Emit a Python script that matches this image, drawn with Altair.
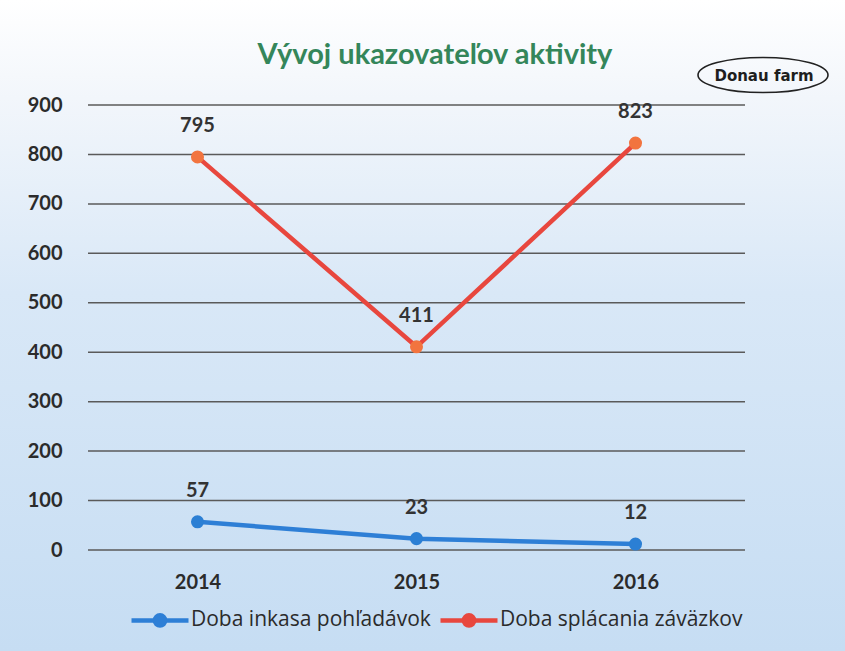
import altair as alt
import pandas as pd

years = ["2014", "2015", "2016"]
inkasa = [57, 23, 12]
splacania = [795, 411, 823]
series = ["Doba inkasa pohľadávok", "Doba splácania záväzkov"]
line_colors = ["#2e7fd6", "#e8473e"]
point_colors = ["#2b7fd4", "#f2743f"]
y_ticks = [0, 100, 200, 300, 400, 500, 600, 700, 800, 900]
title_text = "Vývoj ukazovateľov aktivity"
logo_text_value = "Donau farm"

rows = []
for i, y in enumerate(years):
    rows.append({"year": y, "series": series[0], "value": inkasa[i], "pc": point_colors[0]})
    rows.append({"year": y, "series": series[1], "value": splacania[i], "pc": point_colors[1]})
df = pd.DataFrame(rows)
grid_df = pd.DataFrame({"tick": y_ticks})

W, H = 657, 445
PL, PT, PR, PB = 88, 105, 100, 101
FONT = "Lato"

xenc = alt.X("year:N", sort=years, scale=alt.Scale(type="point", padding=0.5),
             axis=alt.Axis(title=None, labelFontSize=20, labelFont=FONT, labelFontWeight="bold",
                           labelColor="#2b2b2b", labelPadding=22, ticks=False, domain=False,
                           grid=False, labelAngle=0, zindex=1))
yscale = alt.Scale(domain=[0, 900], nice=False, zero=True)
yaxis = alt.Axis(title=None, values=y_ticks, labelFontSize=20, labelFont=FONT,
                 labelFontWeight="bold", labelColor="#2b2b2b", labelPadding=26,
                 ticks=False, domain=False, grid=False, zindex=1)
yenc = alt.Y("value:Q", scale=yscale, axis=yaxis)

bg = alt.Chart(alt.Data(values=[{}])).mark_rect(
    color={"gradient": "linear", "x1": 0, "y1": 0, "x2": 0, "y2": 1,
           "stops": [{"offset": 0, "color": "#ffffff"},
                     {"offset": 0.15, "color": "#f2f6fb"},
                     {"offset": 0.45, "color": "#d9e8f7"},
                     {"offset": 1, "color": "#c6ddf3"}]}
).encode(x=alt.value(-PL), x2=alt.value(W + PR), y=alt.value(-PT), y2=alt.value(H + PB))

grid = alt.Chart(grid_df).mark_rule(color="#5a5a5a", strokeWidth=1.5).encode(
    y=alt.Y("tick:Q", scale=yscale, axis=yaxis),
    x=alt.value(0), x2=alt.value(W))

sym = ("M-1,0 L1,0 "
       "M0.18,0 A0.18,0.18 0 1,1 -0.18,0 A0.18,0.18 0 1,1 0.18,0 "
       "M0.07,0 A0.07,0.07 0 1,1 -0.07,0 A0.07,0.07 0 1,1 0.07,0")

color = alt.Color("series:N", scale=alt.Scale(domain=series, range=line_colors),
                  legend=alt.Legend(title=None, orient="none", legendX=41, legendY=484,
                                    direction="horizontal", columns=2, symbolType=sym,
                                    symbolSize=3249, symbolStrokeWidth=4.5,
                                    labelFont="Open Sans", labelFontSize=21,
                                    labelColor="#2b2b2b", columnPadding=0, labelOffset=0,
                                    labelLimit=400, padding=0, zindex=1))

base = alt.Chart(df)
lines = base.mark_line(strokeWidth=4.5).encode(x=xenc, y=yenc, color=color)
points = base.mark_point(filled=True, size=170, opacity=1).encode(
    x=xenc, y=yenc, fill=alt.Fill("pc:N", scale=None), detail="series:N")
labels = base.mark_text(dy=-31, font=FONT, fontSize=20, fontWeight="bold", color="#333333",
                        baseline="middle").encode(
    x=xenc, y=yenc, text="value:Q", detail="series:N")

title = alt.Chart(alt.Data(values=[{}])).mark_text(
    text=title_text, font=FONT, fontSize=29, fontWeight="bold", color="#34865a", baseline="middle"
).encode(x=alt.value(435 - PL), y=alt.value(55 - PT))

logo_ellipse = alt.Chart(alt.Data(values=[{}])).mark_point(
    shape="M-1,0 A1,0.27 0 1,1 1,0 A1,0.27 0 1,1 -1,0 Z", size=16900,
    filled=False, stroke="#222222", strokeWidth=1.6, opacity=1
).encode(x=alt.value(763 - PL), y=alt.value(75 - PT))
logo_text = alt.Chart(alt.Data(values=[{}])).mark_text(
    text=logo_text_value, font="DejaVu Sans", fontSize=15, fontWeight="bold", color="#1e1e1e",
    baseline="middle"
).encode(x=alt.value(764 - PL), y=alt.value(76 - PT))

chart = alt.layer(bg, grid, lines, points, labels, title, logo_ellipse, logo_text).properties(
    width=W, height=H,
    autosize=alt.AutoSizeParams(type="none"),
    padding={"left": PL, "top": PT, "right": PR, "bottom": PB},
).configure_view(stroke=None).configure(background="#ffffff")

chart.save("out.html", embed_options={"renderer": "svg", "actions": False})
